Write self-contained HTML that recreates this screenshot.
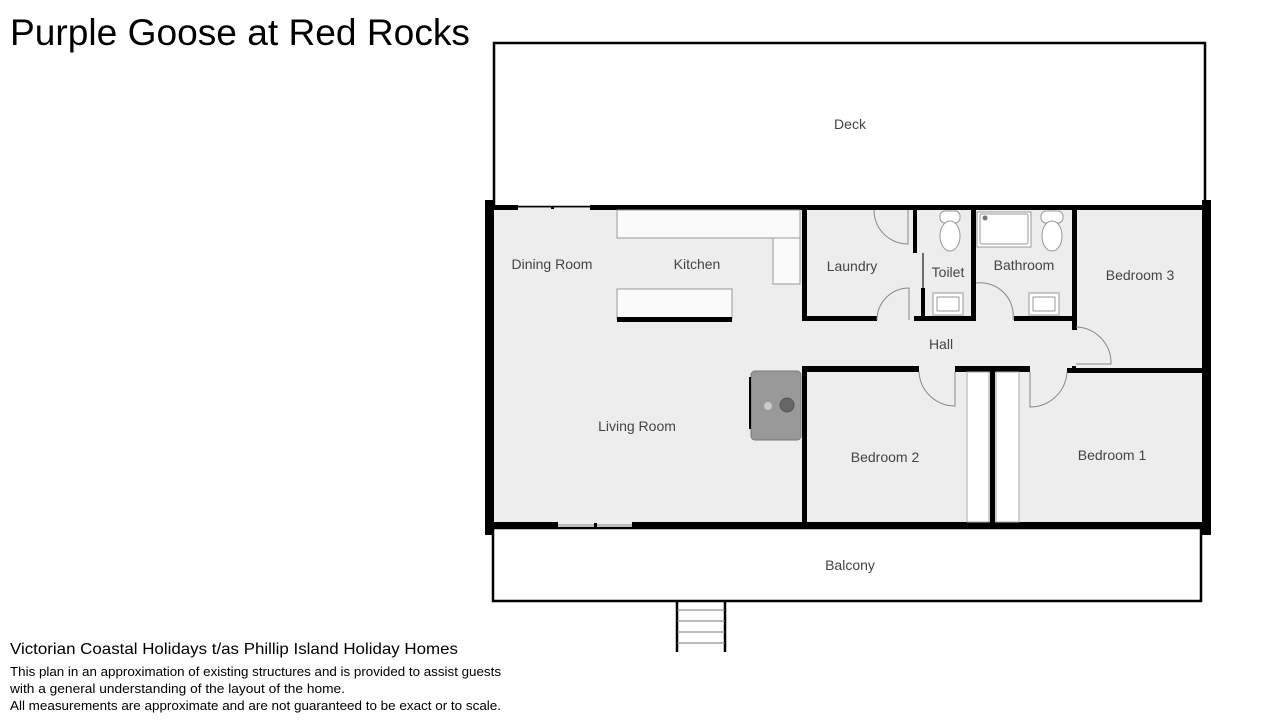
<!DOCTYPE html>
<html><head><meta charset="utf-8"><style>
html,body{margin:0;padding:0;background:#fff;width:1280px;height:720px;overflow:hidden}
svg{display:block}
.l{font-family:"Liberation Sans",sans-serif;font-size:14px;fill:#444}
.c{font-family:"Liberation Sans",sans-serif;fill:#000}
</style></head><body>
<svg width="1280" height="720" viewBox="0 0 1280 720">
<text class="c" x="10" y="45" font-size="37" textLength="460" lengthAdjust="spacingAndGlyphs">Purple Goose at Red Rocks</text>
<!-- deck -->
<rect x="494" y="43" width="711" height="164" fill="#fff" stroke="#000" stroke-width="2.5"/>
<!-- interior -->
<rect x="494" y="208" width="708" height="318" fill="#ededed"/>
<!-- balcony -->
<rect x="493" y="528" width="708" height="73" fill="#fff" stroke="#000" stroke-width="2.5"/>
<!-- stairs -->
<g stroke="#000" stroke-width="2.5"><line x1="677" y1="600" x2="677" y2="652"/><line x1="725" y1="600" x2="725" y2="652"/></g>
<g stroke="#777" stroke-width="1"><line x1="677" y1="610" x2="725" y2="610"/><line x1="677" y1="621" x2="725" y2="621"/><line x1="677" y1="632" x2="725" y2="632"/><line x1="677" y1="643" x2="725" y2="643"/></g>
<!-- outer walls -->
<rect x="485" y="200" width="9" height="335" fill="#000"/>
<rect x="1202" y="200" width="9" height="335" fill="#000"/>
<rect x="494" y="205" width="24" height="5" fill="#000"/>
<rect x="590" y="205" width="612" height="5" fill="#000"/>
<line x1="518" y1="207.5" x2="590" y2="207.5" stroke="#888" stroke-width="1"/>
<rect x="551" y="206" width="3" height="3" fill="#000"/>
<rect x="494" y="522" width="64" height="6" fill="#000"/>
<rect x="632" y="522" width="570" height="6" fill="#000"/>
<line x1="558" y1="525" x2="632" y2="525" stroke="#888" stroke-width="1"/>
<rect x="594" y="523" width="3" height="4" fill="#000"/>
<!-- kitchen counters -->
<path d="M617 210 H800 V284 H773 V238 H617 Z" fill="#fafafa" stroke="#999" stroke-width="1"/>
<line x1="773" y1="238" x2="800" y2="238" stroke="#999"/>
<rect x="617" y="289" width="115" height="30" fill="#fafafa" stroke="#999" stroke-width="1"/>
<rect x="617" y="317" width="115" height="5" fill="#000"/>
<!-- fireplace -->
<rect x="751" y="371" width="50" height="69" rx="4" fill="#999" stroke="#777"/>
<circle cx="787" cy="405" r="7" fill="#666" stroke="#555"/>
<circle cx="768" cy="406" r="4" fill="#ccc"/>
<rect x="749" y="377" width="2" height="52" fill="#000"/>
<!-- laundry / wet area walls -->
<rect x="802" y="210" width="5" height="111" fill="#000"/>
<rect x="806" y="316" width="71" height="5" fill="#000"/>
<rect x="913" y="210" width="4" height="43" fill="#000"/>
<line x1="923" y1="253" x2="923" y2="288" stroke="#444" stroke-width="1.5"/>
<rect x="921" y="288" width="4" height="32" fill="#000"/>
<rect x="914" y="316" width="62" height="5" fill="#000"/>
<rect x="971" y="210" width="5" height="111" fill="#000"/>
<rect x="1014" y="316" width="62" height="5" fill="#000"/>
<rect x="1072" y="210" width="5" height="120" fill="#000"/>
<rect x="1072" y="366" width="4" height="7" fill="#000"/>
<rect x="1076" y="368" width="126" height="5" fill="#000"/>
<!-- hall bottom walls -->
<rect x="802" y="366" width="117" height="6" fill="#000"/>
<rect x="955" y="366" width="75" height="6" fill="#000"/>
<rect x="1067" y="368" width="10" height="5" fill="#000"/>
<rect x="802" y="366" width="5" height="160" fill="#000"/>
<!-- closets -->
<rect x="967" y="372" width="22" height="150" fill="#fff" stroke="#aaa" stroke-width="1"/>
<rect x="996" y="372" width="23" height="150" fill="#fff" stroke="#aaa" stroke-width="1"/>
<rect x="990" y="372" width="5" height="152" fill="#000"/>
<!-- doors -->
<g fill="none" stroke="#888" stroke-width="1">
<path d="M874 210 A34 34 0 0 0 908 244 V210"/>
<path d="M877 320 A32 32 0 0 1 909 288 V320"/>
<path d="M976 283 A33 33 0 0 1 1013 320"/>
<path d="M1076 327 A36 36 0 0 1 1111 364 H1076"/>
<path d="M919 372 A36 36 0 0 0 955 406 V372"/>
<path d="M1030 372 V407 A37 37 0 0 0 1067 372"/>
</g>
<!-- fixtures -->
<g fill="#fff" stroke="#999" stroke-width="1">
<rect x="940" y="211" width="20" height="12" rx="5"/>
<ellipse cx="950" cy="236" rx="10" ry="15"/>
<rect x="1041" y="211" width="22" height="12" rx="5"/>
<ellipse cx="1052" cy="236" rx="10" ry="15"/>
<rect x="977" y="212" width="54" height="35"/>
<rect x="980" y="214" width="48" height="30" rx="2"/>
<rect x="933" y="293" width="30" height="22"/>
<rect x="937" y="297" width="22" height="14"/>
<rect x="1029" y="293" width="30" height="22"/>
<rect x="1033" y="297" width="22" height="14"/>
</g>
<circle cx="985" cy="218" r="2.5" fill="#777"/>
<!-- labels -->
<text class="l" x="850" y="129" text-anchor="middle">Deck</text>
<text class="l" x="552" y="269" text-anchor="middle">Dining Room</text>
<text class="l" x="697" y="269" text-anchor="middle">Kitchen</text>
<text class="l" x="852" y="271" text-anchor="middle">Laundry</text>
<text class="l" x="948" y="277" text-anchor="middle">Toilet</text>
<text class="l" x="1024" y="270" text-anchor="middle">Bathroom</text>
<text class="l" x="1140" y="280" text-anchor="middle">Bedroom 3</text>
<text class="l" x="941" y="349" text-anchor="middle">Hall</text>
<text class="l" x="637" y="431" text-anchor="middle">Living Room</text>
<text class="l" x="885" y="462" text-anchor="middle">Bedroom 2</text>
<text class="l" x="1112" y="460" text-anchor="middle">Bedroom 1</text>
<text class="l" x="850" y="570" text-anchor="middle">Balcony</text>
<!-- footer -->
<text class="c" x="10" y="654" font-size="16" textLength="448" lengthAdjust="spacingAndGlyphs">Victorian Coastal Holidays t/as Phillip Island Holiday Homes</text>
<text class="c" x="10" y="676" font-size="13" textLength="491" lengthAdjust="spacingAndGlyphs">This plan in an approximation of existing structures and is provided to assist guests</text>
<text class="c" x="10" y="693" font-size="13" textLength="335" lengthAdjust="spacingAndGlyphs">with a general understanding of the layout of the home.</text>
<text class="c" x="10" y="710" font-size="13" textLength="491" lengthAdjust="spacingAndGlyphs">All measurements are approximate and are not guaranteed to be exact or to scale.</text>
</svg>
</body></html>
